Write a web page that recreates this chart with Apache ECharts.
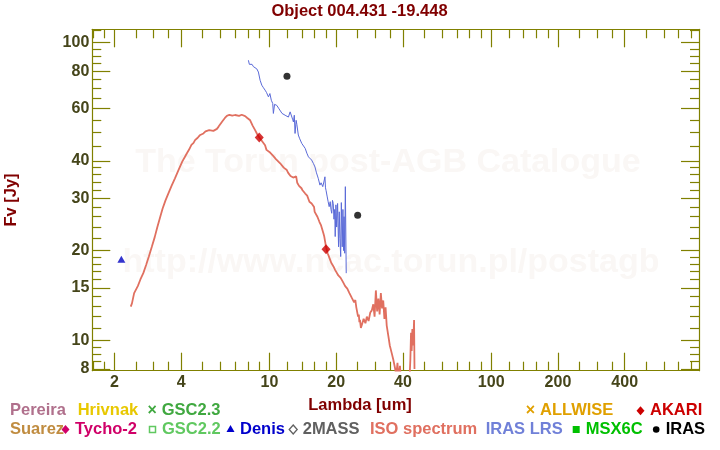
<!DOCTYPE html>
<html>
<head>
<meta charset="utf-8">
<script src="https://cdn.jsdelivr.net/npm/echarts@6/dist/echarts.min.js"></script>
<style>html,body{margin:0;padding:0;background:#fff}#chart{width:720px;height:450px}</style>
</head>
<body>
<div id="chart"></div>
<script>
// ---------- DATA ----------
const isoSpectrum = [
 [2.37,12.97],[2.40,13.3],[2.455,14.4],[2.55,15.2],[2.62,16.0],[2.70,16.8],[2.78,17.9],[2.86,19.1],
 [2.95,20.6],[3.04,22.2],[3.12,23.9],[3.22,26.0],[3.30,27.7],[3.40,29.5],[3.50,31.1],[3.62,33.0],
 [3.75,35.0],[3.89,37.3],[4.05,39.9],[4.15,41.2],[4.24,42.4],[4.35,43.8],[4.45,45.3],[4.55,46.0],
 [4.62,47.0],[4.75,47.9],[4.85,48.8],[4.95,49.0],[5.04,49.5],[5.15,50.3],[5.25,49.7],[5.35,50.8],
 [5.45,50.2],[5.59,50.5],[5.70,51.0],[5.80,51.3],[5.90,52.2],[5.99,52.8],[6.15,54.5],[6.30,55.8],
 [6.43,56.7],[6.6,57.2],[6.8,56.8],[7.0,57.1],[7.13,57.0],[7.3,56.7],[7.5,57.2],[7.65,56.5],
 [7.77,56.6],[7.95,55.8],[8.19,54.8],[8.4,52.6],[8.62,50.8],[8.8,49.3],[9.0,48.0],[9.2,47.0],
 [9.35,46.3],[9.56,45.2],[9.7,43.6],[9.85,44.0],[10.0,42.9],[10.2,42.6],[10.4,41.6],[10.55,41.9],
 [10.7,40.6],[10.9,40.2],[11.18,39.3],[11.4,38.9],[11.6,38.0],[11.8,38.3],[11.98,37.3],[12.15,36.5],
 [12.3,36.9],[12.45,35.6],[12.6,35.9],[12.8,35.2],[13.0,34.9],[13.2,35.5],[13.35,33.8],[13.5,34.1],
 [13.6,33.0],[13.76,32.8],[13.95,32.4],[14.1,31.9],[14.3,31.6],[14.5,31.1],[14.65,31.5],[14.8,30.6],
 [15.0,30.3],[15.15,29.2],[15.3,29.6],[15.5,28.8],[15.7,28.5],[15.9,28.0],[16.0,27.0],[16.1,27.3],
 [16.3,26.6],[16.46,26.0],[16.6,26.3],[16.8,25.0],[16.95,25.3],[17.1,24.3],[17.3,23.6],[17.5,22.9],
 [17.65,22.4],[17.8,21.6],[18.0,20.6],[18.15,20.9],[18.3,19.6],[18.5,19.2],[18.7,18.8],[18.85,18.9],
 [19.0,18.2],[19.2,18.3],[19.44,17.7],[19.6,17.9],[19.8,17.2],[20.0,17.4],[20.2,17.0],[20.45,16.5],
 [20.7,16.6],[20.95,16.2],[21.2,16.35],[21.45,15.7],[21.7,15.9],[21.95,15.2],[22.2,15.4],[22.45,14.9],
 [22.7,15.1],[22.95,14.4],[23.2,14.6],[23.5,13.9],[23.8,14.1],[24.1,13.4],[24.4,13.65],[24.65,12.9],
 [24.9,12.8],[25.1,12.0],[25.3,12.2],[25.45,11.5],[25.6,11.7],[25.85,11.0],[26.1,11.25],[26.6,11.8],
 [27.1,11.4],[27.5,12.0],[28.0,11.6],[28.5,12.4],[28.95,12.6],[29.4,13.2],[29.8,12.0],[30.2,14.7],
 [30.6,12.5],[31.0,13.8],[31.4,12.2],[31.8,14.4],[32.2,12.8],[32.6,13.6],[33.0,11.8],[33.4,12.9],
 [33.8,11.2],[34.4,10.3],[34.9,9.6],[35.6,9.05],[36.2,8.6],[36.8,8.1],[37.3,7.6],[37.8,8.4],
 [38.2,7.4],[38.8,8.2],[39.3,7.0],[40.0,6.5],[42.5,6.5],[43.2,8.6],[43.5,10.6],[43.8,9.2],
 [44.1,10.9],[44.5,9.6],[44.9,11.7],[45.1,8.0]
];
const irasLrs = [
 [8.04,87.2],[8.12,84.5],[8.19,83.9],[8.35,84.5],[8.47,83.0],[8.6,82.5],[8.77,81.6],[8.92,79.6],
 [9.08,74.7],[9.24,71.9],[9.4,70.5],[9.56,69.2],[9.7,68.0],[9.9,65.7],[10.05,67.4],[10.2,64.0],
 [10.35,62.4],[10.42,57.8],[10.55,62.0],[10.8,61.5],[11.0,60.2],[11.18,60.8],[11.4,57.8],[11.6,58.6],
 [11.77,57.0],[12.0,57.5],[12.18,56.2],[12.4,58.5],[12.6,57.8],[12.75,55.0],[12.83,54.1],[12.95,57.0],
 [13.05,49.5],[13.2,54.8],[13.3,53.0],[13.5,48.9],[13.7,47.5],[14.0,45.8],[14.25,45.2],[14.5,44.1],
 [14.75,42.5],[15.0,41.3],[15.25,40.8],[15.5,40.3],[15.8,39.2],[16.05,38.2],[16.3,36.5],[16.6,35.0],
 [16.9,33.2],[17.1,33.8],[17.4,32.8],[17.6,34.0],[17.8,35.4],[17.9,32.5],[18.0,31.9],[18.2,30.5],
 [18.4,29.2],[18.6,28.1],[18.8,29.2],[18.95,27.5],[19.1,26.7],[19.25,29.5],[19.4,28.8],[19.55,25.5],
 [19.7,27.5],[19.8,22.3],[19.95,28.5],[20.1,24.0],[20.3,28.8],[20.5,20.6],[20.65,27.0],[20.8,22.0],
 [20.96,19.1],[21.1,29.0],[21.3,20.6],[21.45,27.5],[21.6,20.0],[21.7,26.0],[21.85,19.6],[22.0,32.8],[22.2,16.8]
];
const denis = [[2.15, 18.7]];
const akari = [[9.0, 48.0], [18.0, 20.2]];
const iras = [[12.0, 77.1], [25.0, 26.3]];

const xMajorTicks = [2, 4, 10, 20, 40, 100, 200, 400];
const xMinorTicks = [1.6, 1.8, 2.5, 3, 3.5, 5, 6, 7, 8, 9, 12, 14, 16, 18, 25, 30, 35, 50, 60, 70, 80, 90,
                     120, 140, 160, 180, 250, 300, 350, 500, 600, 700, 800];
const yMajorTicks = [8, 10, 15, 20, 30, 40, 60, 80, 100];
const yMinorTicks = [8.5, 9, 9.5, 11, 12, 13, 14, 16, 17, 18, 19, 22, 24, 26, 28, 32, 34, 36, 38,
                     45, 50, 55, 65, 70, 75, 85, 90, 95, 110];

const titleText = 'Object 004.431 -19.448';
const xName = 'Lambda [um]';
const yName = 'Fv [Jy]';
const watermark1 = 'The Torun post-AGB Catalogue';
const watermark2 = 'http://www.ncac.torun.pl/postagb';

// legend entries: [label, colour, marker]
const legendRow1 = [['Pereira','#b0708c',null],['Hrivnak','#e8c800',null],['GSC2.3','#40a840','cross'],
                    ['ALLWISE','#e0a000','cross'],['AKARI','#cc0000','diamond']];
const legendRow2 = [['Suarez','#c08c40',null],['Tycho-2','#d00068','diamond'],['GSC2.2','#60c860','square'],
                    ['Denis','#0000cc','triangle'],['2MASS','#606060','diamondOpen'],['ISO spectrum','#e07060',null],
                    ['IRAS LRS','#7080d8',null],['MSX6C','#00c000','squareFill'],['IRAS','#000000','circle']];

// ---------- LAYOUT / STYLE ----------
const FONT = '"Liberation Sans", Arial, sans-serif';
const AXIS_COLOR = '#808000';
const LABEL_COLOR = '#45451a';
const X_MIN = 1.59, X_MAX = 865, Y_MIN = 7.9, Y_MAX = 110.8;
const fmt = v => String(+(+v).toPrecision(6));

function xAxisDef(position, ticks, len, showLabel, showLine) {
  return {
    type: 'log', logBase: 10, min: X_MIN, max: X_MAX, position: position, gridIndex: 0,
    axisLine: { show: showLine, lineStyle: { color: AXIS_COLOR, width: 1.2 } },
    axisTick: { show: true, inside: true, length: len, customValues: ticks, lineStyle: { color: AXIS_COLOR, width: 1.2 } },
    axisLabel: { show: showLabel, customValues: ticks, formatter: fmt, margin: 4, color: LABEL_COLOR,
                 fontFamily: FONT, fontWeight: 'bold', fontSize: 16 },
    minorTick: { show: false }, splitLine: { show: false }
  };
}
function yAxisDef(position, ticks, len, showLabel, showLine) {
  return {
    type: 'log', logBase: 10, min: Y_MIN, max: Y_MAX, position: position, gridIndex: 0,
    axisLine: { show: showLine, lineStyle: { color: AXIS_COLOR, width: 1.2 } },
    axisTick: { show: true, inside: true, length: len, customValues: ticks, lineStyle: { color: AXIS_COLOR, width: 1.2 } },
    axisLabel: { show: showLabel, customValues: ticks, formatter: fmt, margin: 3, color: LABEL_COLOR,
                 fontFamily: FONT, fontWeight: 'bold', fontSize: 16 },
    minorTick: { show: false }, splitLine: { show: false }
  };
}

// legend graphics
const legendX1 = [10, 77.7, 161.7, 540, 650];
const legendX2 = [10, 75, 162, 240, 302.7, 370, 485.7, 585.7, 665.7];
const ROW1_Y = 410.8, ROW2_Y = 429.5;
function markerGraphic(kind, color, cx, cy) {
  switch (kind) {
    case 'cross': return { type: 'text', x: cx, y: cy, style: { text: '×', fill: color, font: 'bold 16px ' + FONT, align: 'center', verticalAlign: 'middle' } };
    case 'diamond': return { type: 'polygon', shape: { points: [[cx, cy-4.5],[cx+4,cy],[cx,cy+4.5],[cx-4,cy]] }, style: { fill: color } };
    case 'diamondOpen': return { type: 'polygon', shape: { points: [[cx, cy-4.5],[cx+4,cy],[cx,cy+4.5],[cx-4,cy]] }, style: { fill: 'none', stroke: color, lineWidth: 1.3 } };
    case 'square': return { type: 'rect', shape: { x: cx-3, y: cy-3, width: 6, height: 6 }, style: { fill: 'none', stroke: color, lineWidth: 1.5 } };
    case 'squareFill': return { type: 'rect', shape: { x: cx-3.5, y: cy-3.5, width: 7, height: 7 }, style: { fill: color } };
    case 'triangle': return { type: 'polygon', shape: { points: [[cx, cy-4.5],[cx+4,cy+2.5],[cx-4,cy+2.5]] }, style: { fill: color } };
    case 'circle': return { type: 'circle', shape: { cx: cx, cy: cy, r: 3.3 }, style: { fill: color } };
  }
  return null;
}
const graphics = [];
graphics.push({ type: 'text', x: 388, y: 163, z: -10, style: { text: watermark1, fill: '#faf7f5', font: 'bold 34px ' + FONT, align: 'center', verticalAlign: 'middle' } });
graphics.push({ type: 'text', x: 391, y: 263, z: -10, style: { text: watermark2, fill: '#faf7f5', font: 'bold 34px ' + FONT, align: 'center', verticalAlign: 'middle' } });
graphics.push({ type: 'text', x: 359.5, y: 11.5, style: { text: titleText, fill: '#800000', font: 'bold 16.5px ' + FONT, align: 'center', verticalAlign: 'middle' } });
graphics.push({ type: 'text', x: 360, y: 405.5, style: { text: xName, fill: '#800000', font: 'bold 16.5px ' + FONT, align: 'center', verticalAlign: 'middle' } });
graphics.push({ type: 'text', x: 11, y: 200, rotation: Math.PI / 2, style: { text: yName, fill: '#800000', font: 'bold 16.5px ' + FONT, align: 'center', verticalAlign: 'middle' } });
function addRow(row, xs, y) {
  row.forEach((e, i) => {
    graphics.push({ type: 'text', x: xs[i], y: y, style: { text: e[0], fill: e[1], font: 'bold 16.5px ' + FONT, align: 'left', verticalAlign: 'middle' } });
    if (e[2]) graphics.push(markerGraphic(e[2], e[1], xs[i] - 9.5, y));
  });
}
addRow(legendRow1, legendX1, ROW1_Y);
addRow(legendRow2, legendX2, ROW2_Y);

const chart = echarts.init(document.getElementById('chart'), null, { renderer: 'canvas' });
chart.setOption({
  animation: false,
  backgroundColor: '#ffffff',
  grid: { left: 92.3, top: 29.3, width: 606.7, height: 341.4, containLabel: false },
  xAxis: [
    xAxisDef('bottom', xMajorTicks, 18, true, true),
    xAxisDef('bottom', xMinorTicks, 9, false, false),
    xAxisDef('top', xMajorTicks, 18, false, true),
    xAxisDef('top', xMinorTicks, 9, false, false)
  ],
  yAxis: [
    yAxisDef('left', yMajorTicks, 18, true, true),
    yAxisDef('left', yMinorTicks, 9, false, false),
    yAxisDef('right', yMajorTicks, 18, false, true),
    yAxisDef('right', yMinorTicks, 9, false, false)
  ],
  graphic: graphics,
  series: [
    { name: 'ISO spectrum', type: 'line', data: isoSpectrum, showSymbol: false, clip: true,
      lineStyle: { color: '#e07060', width: 1.8 }, z: 2 },
    { name: 'IRAS LRS', type: 'line', data: irasLrs, showSymbol: false, clip: true,
      lineStyle: { color: '#5a6ad8', width: 1 }, z: 3 },
    { name: 'Denis', type: 'scatter', data: denis, symbol: 'triangle', symbolSize: [8, 7],
      itemStyle: { color: '#0000c0' }, z: 4 },
    { name: 'AKARI', type: 'scatter', data: akari, symbol: 'diamond', symbolSize: [9, 10],
      itemStyle: { color: '#cc0000' }, z: 4 },
    { name: 'IRAS', type: 'scatter', data: iras, symbol: 'circle', symbolSize: 7,
      itemStyle: { color: '#000000' }, z: 4 }
  ]
});
</script>
</body>
</html>
